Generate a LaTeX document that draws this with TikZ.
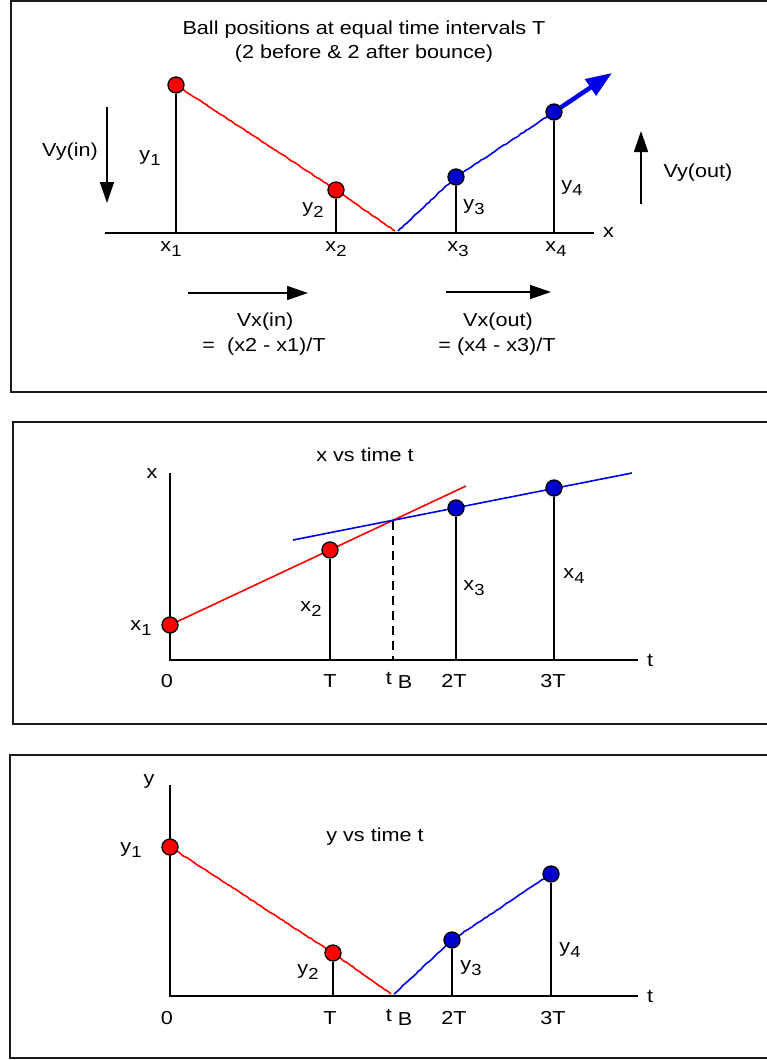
\documentclass[tikz,border=0pt]{standalone}
\usepackage{fontspec}
\setmainfont[FakeStretch=1.15]{Liberation Sans}
\usepackage{xcolor}
\definecolor{cRed}{HTML}{FF0000}
\definecolor{cBlue}{HTML}{0000CC}
\definecolor{cLineBlue}{HTML}{0000E6}
\definecolor{cFrame}{HTML}{1A1A1A}
\usepackage{tikz}
\usetikzlibrary{positioning,arrows.meta,calc,decorations.pathmorphing}
% index label: letter with lowered number
\newcommand{\idx}[2]{#1\raisebox{-0.5ex}{\fontsize{16}{16}\selectfont #2}}
\tikzset{
  panel-frame/.style={draw=cFrame,line width=2pt},
  lbl/.style={font=\fontsize{18.8}{22}\selectfont,inner sep=0pt,align=center},
  ball-red/.style={circle,draw=black,line width=1.3pt,fill=cRed,
    minimum size=16pt,inner sep=0pt},
  ball-blue/.style={ball-red,fill=cBlue},
  axis-line/.style={line width=1.5pt,draw=black},
  stem/.style={line width=1.2pt,draw=black},
  path-red/.style={line width=1.6pt,draw=cRed,decorate,
    decoration={random steps,segment length=3pt,amplitude=0.4pt}},
  path-blue/.style={path-red,draw=cLineBlue},
  fit-red/.style={line width=1.6pt,draw=cRed},
  fit-blue/.style={line width=1.6pt,draw=cLineBlue},
  arrow-v/.style={-{Triangle[length=21pt,width=14pt]},line width=1.6pt},
  arrow-out/.style={-{Triangle[length=26pt,width=19pt]},line width=4.5pt,draw=cLineBlue},
  tick-dash/.style={dash pattern=on 9pt off 6pt,line width=1.2pt},
}

\begin{document}
\begin{tikzpicture}[x=1pt,y=-1pt]
  \useasboundingbox (0,0) rectangle (767,1060);

  % ---- panel 1: positions
  \draw[panel-frame] (11,1) rectangle (790,392);
  \node[lbl] (title-a) at (364,30) {Ball positions at equal time intervals T};
  \node[lbl] (title-b) at (364,54) {(2 before \& 2 after bounce)};
  \coordinate (ax-a-l) at (105,233);
  \coordinate (ax-a-r) at (594,233);
  \draw[axis-line] (ax-a-l) -- (ax-a-r);
  \node[lbl,right=9pt of ax-a-r] (ax-a-x) {x};
  \coordinate (pa1c) at (176,85);
  \coordinate (pa2c) at (336,190);
  \coordinate (pa3c) at (456,177);
  \coordinate (pa4c) at (554,112);
  \coordinate (bnc-a-l) at (395,231);
  \coordinate (bnc-a-r) at (398,231);
  \coordinate (out-tip) at (612,73);
  \draw[path-red] (pa1c) -- (pa2c) -- (bnc-a-l);
  \draw[path-blue] (bnc-a-r) -- (pa3c) -- (pa4c);
  \node[ball-red]  (pa1) at (pa1c) {};
  \node[ball-red]  (pa2) at (pa2c) {};
  \node[ball-blue] (pa3) at (pa3c) {};
  \node[ball-blue] (pa4) at (pa4c) {};
  \draw[arrow-out] (pa4) -- (out-tip);
  \foreach \b in {pa1,pa2,pa3,pa4}
    \draw[stem] (\b.south) -- (\b.south |- ax-a-l);
  \node[lbl] (la-x1) at (171,249) {\idx{x}{1}};
  \node[lbl] (la-x2) at (336,249) {\idx{x}{2}};
  \node[lbl] (la-x3) at (458,249) {\idx{x}{3}};
  \node[lbl] (la-x4) at (556,249) {\idx{x}{4}};
  \node[lbl] (la-y1) at (150,158) {\idx{y}{1}};
  \node[lbl] (la-y2) at (313,210) {\idx{y}{2}};
  \node[lbl] (la-y3) at (474,207) {\idx{y}{3}};
  \node[lbl] (la-y4) at (572,188) {\idx{y}{4}};
  % velocity arrows
  \coordinate (vyin-s) at (107,107);
  \coordinate (vyin-e) at (107,203);
  \draw[arrow-v] (vyin-s) -- (vyin-e);
  \node[lbl] (vyin) at (70,152) {Vy(in)};
  \coordinate (vyout-s) at (641,204);
  \coordinate (vyout-e) at (641,131);
  \draw[arrow-v] (vyout-s) -- (vyout-e);
  \node[lbl] (vyout) at (698,173) {Vy(out)};
  \coordinate (vxin-s) at (188,293);
  \coordinate (vxin-e) at (308,293);
  \draw[arrow-v] (vxin-s) -- (vxin-e);
  \node[lbl] (vxin) at (265,322) {Vx(in)};
  \node[lbl] (vxin-eq) at (264,347) {=\ \ (x2 - x1)/T};
  \coordinate (vxout-s) at (446,292);
  \coordinate (vxout-e) at (551,292);
  \draw[arrow-v] (vxout-s) -- (vxout-e);
  \node[lbl] (vxout) at (498,322) {Vx(out)};
  \node[lbl] (vxout-eq) at (497,347) {= (x4 - x3)/T};

  % ---- panel 2: x vs t
  \draw[panel-frame] (13,422) rectangle (790,724);
  \node[lbl] (title-x) at (365,455) {x vs time t};
  \coordinate (o-x) at (170,660);
  \coordinate (ax-x-top) at (170,473);
  \coordinate (ax-x-r) at (638,660);
  \draw[axis-line] (ax-x-top) -- (o-x) -- (ax-x-r);
  \node[lbl] (ax-x-lx) at (152,474) {x};
  \node[lbl,right=9pt of ax-x-r] (ax-x-lt) {t};
  \coordinate (px1c) at (170,625);
  \coordinate (px2c) at (330,550);
  \coordinate (px3c) at (456,508);
  \coordinate (px4c) at (554,488);
  \coordinate (fit-red-e) at (466,486);
  \coordinate (fit-blue-s) at (293,540);
  \coordinate (fit-blue-e) at (632,473);
  \coordinate (cross-b) at (393,521);
  \draw[fit-red] (px1c) -- (fit-red-e);
  \draw[fit-blue] (fit-blue-s) -- (fit-blue-e);
  \draw[tick-dash] (cross-b) -- (cross-b |- o-x);
  \node[ball-red]  (px1) at (px1c) {};
  \node[ball-red]  (px2) at (px2c) {};
  \node[ball-blue] (px3) at (px3c) {};
  \node[ball-blue] (px4) at (px4c) {};
  \foreach \b in {px2,px3,px4}
    \draw[stem] (\b.south) -- (\b.south |- o-x);
  \node[lbl] (lx-x1) at (141,628) {\idx{x}{1}};
  \node[lbl] (lx-x2) at (311,609) {\idx{x}{2}};
  \node[lbl] (lx-x3) at (474,588) {\idx{x}{3}};
  \node[lbl] (lx-x4) at (574,576) {\idx{x}{4}};
  \node[lbl] (tx-0)  at (167,681) {0};
  \node[lbl] (tx-1)  at (330,681) {T};
  \node[lbl] (tx-b)  at (399,680) {t \raisebox{-4pt}{B}};
  \node[lbl] (tx-2)  at (454,681) {2T};
  \node[lbl] (tx-3)  at (553,681) {3T};

  % ---- panel 3: y vs t
  \draw[panel-frame] (10,755) rectangle (790,1058);
  \node[lbl] (title-y) at (375,837) {y vs time t};
  \coordinate (o-y) at (170,996);
  \coordinate (ax-y-top) at (170,785);
  \coordinate (ax-y-r) at (638,996);
  \draw[axis-line] (ax-y-top) -- (o-y) -- (ax-y-r);
  \node[lbl] (ax-y-ly) at (149,781) {y};
  \node[lbl,right=9pt of ax-y-r] (ax-y-lt) {t};
  \coordinate (py1c) at (170,847);
  \coordinate (py2c) at (333,953);
  \coordinate (py3c) at (452,940);
  \coordinate (py4c) at (551,874);
  \coordinate (bnc-y-l) at (391,994);
  \coordinate (bnc-y-r) at (394,994);
  \draw[path-red] (py1c) -- (py2c) -- (bnc-y-l);
  \draw[path-blue] (bnc-y-r) -- (py3c) -- (py4c);
  \node[ball-red]  (py1) at (py1c) {};
  \node[ball-red]  (py2) at (py2c) {};
  \node[ball-blue] (py3) at (py3c) {};
  \node[ball-blue] (py4) at (py4c) {};
  \foreach \b in {py2,py3,py4}
    \draw[stem] (\b.south) -- (\b.south |- o-y);
  \node[lbl] (ly-y1) at (131,850) {\idx{y}{1}};
  \node[lbl] (ly-y2) at (308,972) {\idx{y}{2}};
  \node[lbl] (ly-y3) at (471,968) {\idx{y}{3}};
  \node[lbl] (ly-y4) at (570,950) {\idx{y}{4}};
  \node[lbl] (ty-0)  at (167,1018) {0};
  \node[lbl] (ty-1)  at (330,1018) {T};
  \node[lbl] (ty-b)  at (399,1017) {t \raisebox{-4pt}{B}};
  \node[lbl] (ty-2)  at (454,1018) {2T};
  \node[lbl] (ty-3)  at (553,1018) {3T};
\end{tikzpicture}
\end{document}
